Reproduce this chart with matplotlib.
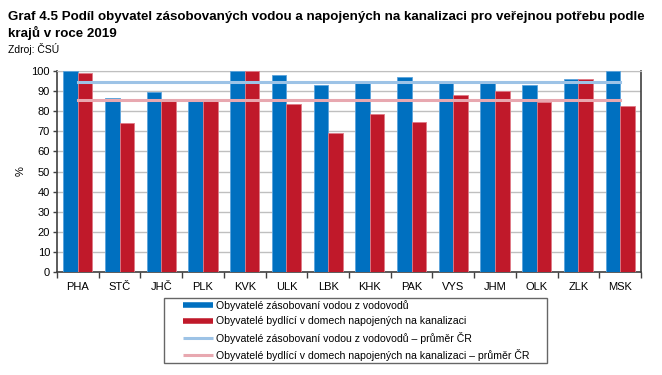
import matplotlib
matplotlib.use("Agg")
import matplotlib.pyplot as plt
import numpy as np
from matplotlib.lines import Line2D
from matplotlib.legend_handler import HandlerBase

plt.rcParams['font.family'] = ['Liberation Sans', 'DejaVu Sans']

categories = ["PHA", "STČ", "JHČ", "PLK", "KVK", "ULK", "LBK", "KHK", "PAK", "VYS", "JHM", "OLK", "ZLK", "MSK"]
water = [100, 86.4, 89.6, 85.9, 100, 98.0, 92.9, 94.2, 97.0, 94.2, 94.2, 93.2, 95.9, 100]
sewer = [99.0, 74.3, 86.1, 85.9, 100, 83.4, 69.3, 78.6, 74.6, 87.9, 90.0, 84.7, 96.0, 82.7]
water_avg = 94.4
sewer_avg = 85.4
labels = ["Obyvatelé zásobovaní vodou z vodovodů",
          "Obyvatelé bydlící v domech napojených na kanalizaci",
          "Obyvatelé zásobovaní vodou z vodovodů – průměr ČR",
          "Obyvatelé bydlící v domech napojených na kanalizaci – průměr ČR"]

blue = "#0070C0"
red = "#C0192A"
lblue = "#9DC3E6"
lred = "#E8A8B0"


class OffsetLine(HandlerBase):
    def create_artists(self, legend, orig_handle, xdescent, ydescent, width, height, fontsize, trans):
        y = height / 2 - ydescent
        ln = Line2D([-xdescent + 0.37 * width, -xdescent + width], [y, y],
                    color=orig_handle.get_color(), lw=orig_handle.get_linewidth(),
                    solid_capstyle="butt", transform=trans)
        return [ln]


fig = plt.figure(figsize=(6.62, 3.75), dpi=100)
ax = fig.add_axes([57/662, 1-272/375, (641-57)/662, (272-71)/375])

x = np.arange(len(categories))
w = 0.35
ax.bar(x - w/2, water, w, color=blue, edgecolor="#5BA3DC", linewidth=0.6, zorder=3)
ax.bar(x + w/2, sewer, w, color=red, edgecolor="#E07A86", linewidth=0.6, zorder=3)
ax.plot([x[0], x[-1]], [water_avg, water_avg], color=lblue, lw=2.2, zorder=4)
ax.plot([x[0], x[-1]], [sewer_avg, sewer_avg], color=lred, lw=2.2, zorder=4)

ax.set_xlim(-0.5, len(categories) - 0.5)
ax.set_ylim(0, 100)
ax.set_yticks(range(0, 101, 10))
ax.yaxis.grid(True, color="#BFBFBF", lw=1, zorder=0)
ax.set_axisbelow(True)
ax.set_xticks(x)
ax.set_xticklabels(categories, fontsize=8)
ax.tick_params(axis='x', length=0, pad=7)
ax.set_xticks(np.arange(-0.5, len(categories) + 0.5, 1), minor=True)
ax.tick_params(axis='x', which='minor', length=4, width=1, color="#404040")
ax.tick_params(axis='y', labelsize=8, length=3, width=1, color="#404040", pad=2)
for s in ["left", "bottom", "right"]:
    ax.spines[s].set_color("#404040")
    ax.spines[s].set_linewidth(1.2)
ax.spines["top"].set_color("#BFBFBF")
ax.set_ylabel("%", fontsize=8, labelpad=4)

fig.text(8/662, 1-20/375, "Graf 4.5 Podíl obyvatel zásobovaných vodou a napojených na kanalizaci pro veřejnou potřebu podle",
         fontsize=9.6, fontweight="bold", va="baseline", ha="left")
fig.text(8/662, 1-37/375, "krajů v roce 2019", fontsize=9.6, fontweight="bold", va="baseline", ha="left")
fig.text(8/662, 1-53/375, "Zdroj: ČSÚ", fontsize=7.5, va="baseline", ha="left")

handles = [Line2D([], [], color=blue, lw=4),
           Line2D([], [], color=red, lw=4),
           Line2D([], [], color=lblue, lw=2.2),
           Line2D([], [], color=lred, lw=2.2)]
leg = fig.legend(handles, labels, loc="upper left",
                 bbox_to_anchor=(164/662, 1-298/375, 383/662, 0), mode="expand",
                 borderaxespad=0,
                 fontsize=7.6, frameon=True, fancybox=False, edgecolor="#404040",
                 handlelength=4.4, labelspacing=0.5, borderpad=0.2, handletextpad=0.3,
                 handler_map={Line2D: OffsetLine()})
leg.get_frame().set_linewidth(1)

fig.savefig("out.png", dpi=100)
